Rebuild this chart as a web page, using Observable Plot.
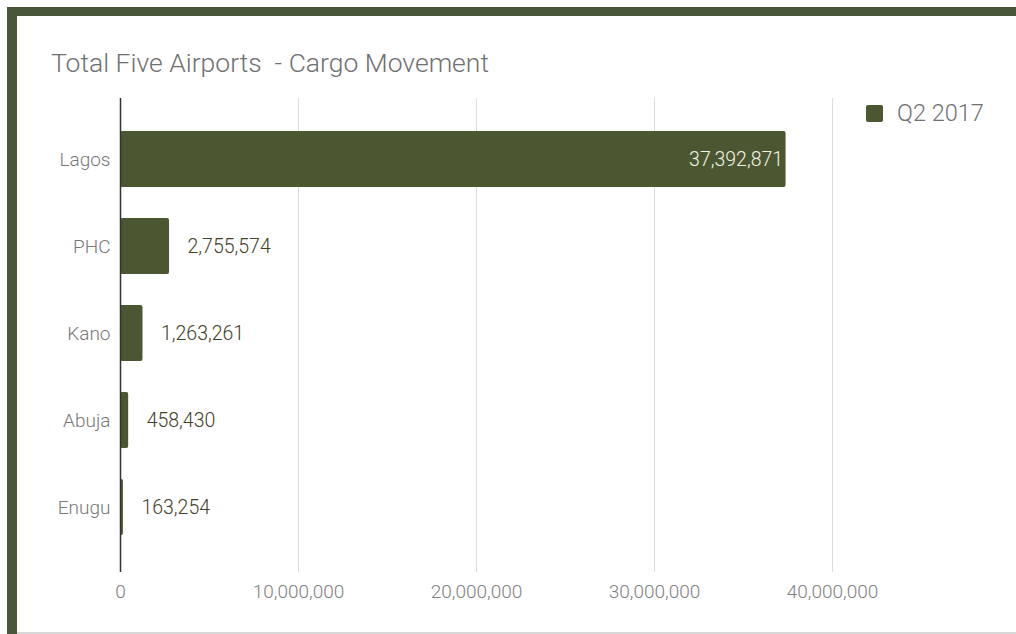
<!DOCTYPE html>
<html>
<head>
<meta charset="utf-8">
<script src="https://cdn.jsdelivr.net/npm/d3@7"></script>
<script src="https://cdn.jsdelivr.net/npm/@observablehq/plot@0.6"></script>
<style>
  html, body { margin: 0; padding: 0; background: #fff; }
  #wrap { position: relative; width: 1016px; height: 634px; overflow: hidden; font-family: Roboto, "Noto Sans", sans-serif; }
  #frameTop { position: absolute; left: 7px; top: 7px; width: 1009px; height: 9px; background: #4a5638; }
  #frameLeft { position: absolute; left: 7px; top: 7px; width: 10px; height: 627px; background: #4a5638; }
  #frameBottom { position: absolute; left: 17px; top: 632px; width: 999px; height: 2px; background: #d8d8d8; }
  #title { position: absolute; left: 51px; top: 47px; font-size: 26.5px; font-weight: 300; color: #707070; white-space: pre; }
  #legend { position: absolute; left: 866px; top: 99px; display: flex; align-items: center; font-size: 23.5px; font-weight: 300; color: #707070; }
  #legend .sw { width: 17px; height: 17px; background: #4b5730; border-radius: 2px; margin-right: 14px; }
  #chart { position: absolute; left: 0; top: 0; }
</style>
</head>
<body>
<div id="wrap">
  <div id="chart"></div>
  <div id="frameTop"></div>
  <div id="frameLeft"></div>
  <div id="frameBottom"></div>
  <div id="title">Total Five Airports  - Cargo Movement</div>
  <div id="legend"><div class="sw"></div><span id="legendText"></span></div>
</div>
<script>
const airports = ["Lagos", "PHC", "Kano", "Abuja", "Enugu"];
const cargo = [37392871, 2755574, 1263261, 458430, 163254];
const xTicks = [0, 10000000, 20000000, 30000000, 40000000];
const seriesName = "Q2 2017";

const data = airports.map((a, i) => ({airport: a, value: cargo[i]}));
const fmt = d3.format(",");
const barColor = "#4b5730";

document.getElementById("legendText").textContent = seriesName;

const chart = Plot.plot({
  width: 1016,
  height: 634,
  marginLeft: 120,
  marginRight: 184,
  marginTop: 98,
  marginBottom: 66,
  style: {fontFamily: "Roboto, 'Noto Sans', sans-serif", background: "transparent", fontWeight: 300},
  x: {domain: [0, 40000000], ticks: xTicks, tickFormat: fmt, label: null, tickSize: 0, tickPadding: 16},
  y: {domain: airports, padding: 0.36, label: null, tickSize: 0, tickPadding: 10},
  marks: [
    Plot.ruleX(xTicks.filter(d => d > 0), {stroke: "#dcdcdc", strokeWidth: 1, insetBottom: -4}),
    Plot.axisX({ticks: xTicks, tickFormat: fmt, tickSize: 0, tickPadding: 16, fontSize: 19, fill: "#808080", label: null}),
    Plot.axisY({tickSize: 0, tickPadding: 10, fontSize: 19, fill: "#777", label: null}),
    Plot.barX(data, {y: "airport", x: "value", fill: barColor, rx: 2}),
    Plot.ruleX([0], {stroke: "#333", strokeWidth: 1.5, insetBottom: -4}),
    Plot.text(data.filter(d => d.value > 20000000), {y: "airport", x: "value", text: d => fmt(d.value), textAnchor: "end", dx: -3, fill: "#f2f3e6", fontSize: 19.5}),
    Plot.text(data.filter(d => d.value <= 20000000), {y: "airport", x: "value", text: d => fmt(d.value), textAnchor: "start", dx: 18, fill: "#3f4128", fontSize: 19.5})
  ]
});
document.getElementById("chart").appendChild(chart);
</script>
</body>
</html>
